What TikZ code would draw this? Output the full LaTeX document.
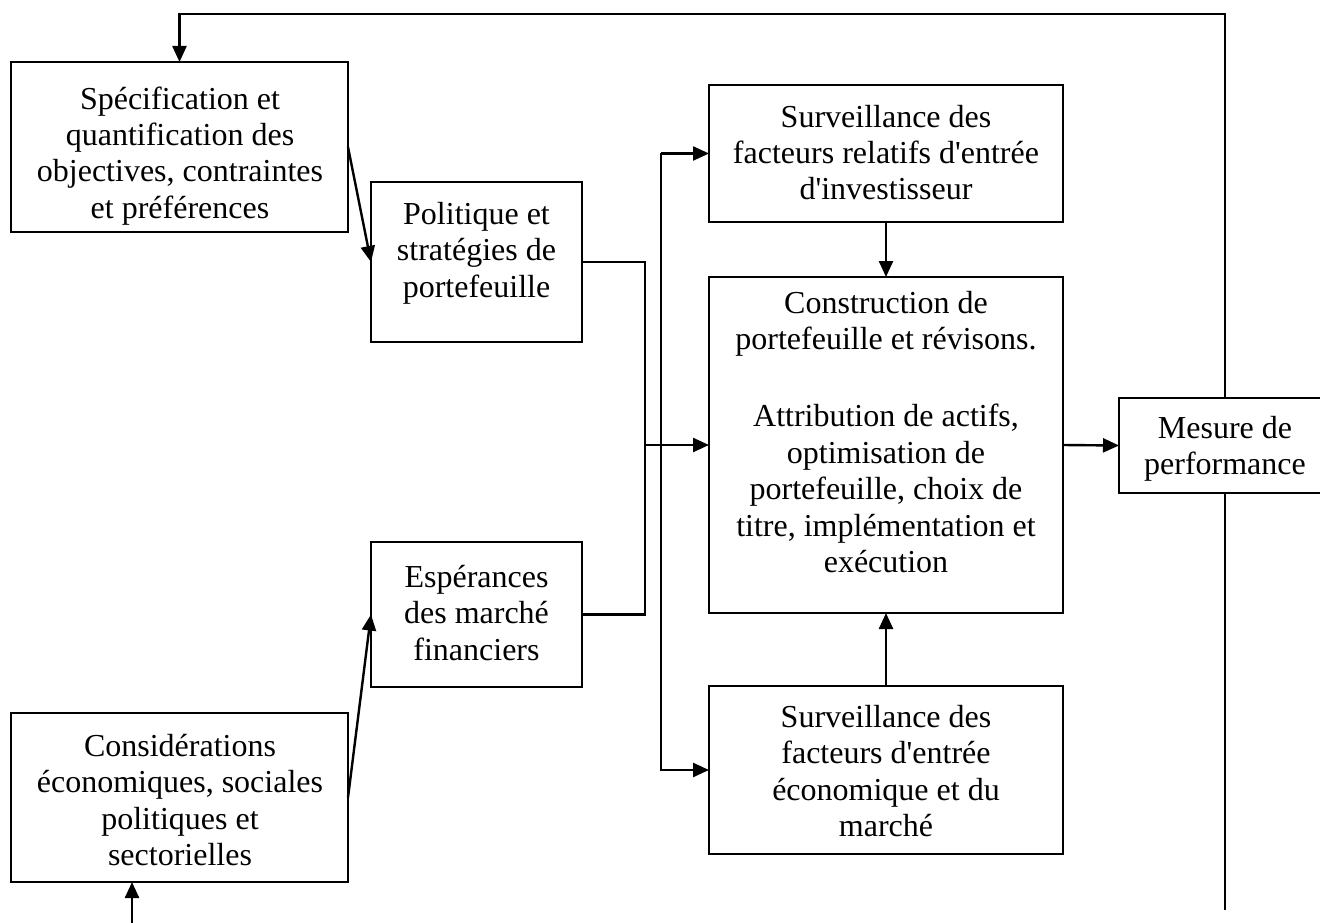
\documentclass[tikz,border=0pt]{standalone}
\usepackage{fontspec}
\setmainfont{Liberation Serif}[Ligatures=TeXOff]
\usetikzlibrary{arrows.meta}
\newcommand{\fs}{\rule{0pt}{25pt}}
\begin{document}
\begin{tikzpicture}[x=1pt,y=-1pt,
  every node/.style={inner sep=0pt, outer sep=0pt},
  txt/.style={anchor=north, align=center, font=\fontsize{32}{36.5}\selectfont},
  box/.style={draw, line width=2.4pt, rectangle},
  conn/.style={line width=2.4pt},
  arr/.style={conn, -{Triangle[length=16pt,width=14pt]}}]
\useasboundingbox (0,0) rectangle (1320,923);
\clip (0,0) rectangle (1320,923);
% boxes
\node[box, minimum width=337pt, minimum height=170pt] (spec) at (179.5,147) {};
\node[box, minimum width=211pt, minimum height=160pt] (pol) at (476.5,262) {};
\node[box, minimum width=211pt, minimum height=145pt] (esp) at (476.5,614.5) {};
\node[box, minimum width=337pt, minimum height=169pt] (cons) at (179.5,797.5) {};
\node[box, minimum width=354pt, minimum height=137pt] (surv1) at (886,153.5) {};
\node[box, minimum width=354pt, minimum height=336pt] (constr) at (886,445) {};
\node[box, minimum width=354pt, minimum height=168pt] (surv2) at (886,770) {};
\node[box, minimum width=212pt, minimum height=95pt] (mes) at (1225,445.5) {};
% texts
\node[txt] (specT) at (180,84)
  {\fs Spécification et\\quantification des\\objectives, contraintes\\et préférences};
\node[txt] (polT) at (476.5,199) {\fs Politique et\\stratégies de\\portefeuille};
\node[txt] (espT) at (476.5,562) {\fs Espérances\\des marché\\financiers};
\node[txt] (consT) at (180,731)
  {\fs Considérations\\économiques, sociales\\politiques et\\sectorielles};
\node[txt] (surv1T) at (886,102)
  {\fs Surveillance des\\facteurs relatifs d'entrée\\d'investisseur};
\node[txt] (constrT) at (886,288)
  {\fs Construction de\\portefeuille et révisons.\\[40.5pt]Attribution de actifs,\\optimisation de\\portefeuille, choix de\\titre, implémentation et\\exécution};
\node[txt] (surv2T) at (886,702)
  {\fs Surveillance des\\facteurs d'entrée\\économique et du\\marché};
\node[txt] (mesT) at (1225,413) {\fs Mesure de\\performance};
% helper coordinates
\coordinate (top) at (0,14);
\coordinate (mesEnd) at (1225,910);
\coordinate (consIn) at (132,930);
\coordinate (bus1) at (645,445);
\coordinate (bus2) at (661,0);
% connectors
\draw[arr] (mes.north) -- (mes.north |- top) -| (spec.north);
\draw[conn] (mes.south) -- (mesEnd);
\draw[arr] (consIn) -- (consIn |- cons.south);
\draw[arr] (spec.east) -- (pol.west);
\draw[arr] (cons.east) -- (esp.west);
\draw[conn] (pol.east) -| (bus1) |- (esp.east);
\draw[arr] (bus1) -- (constr.west);
\draw[arr] (surv1.west -| bus2) -- (surv1.west);
\draw[arr] (surv1.west -| bus2) |- (surv2.west);
\draw[arr] (surv1.south) -- (constr.north);
\draw[arr] (surv2.north) -- (constr.south);
\draw[arr] (constr.east) -- (mes.west);
\end{tikzpicture}
\end{document}
